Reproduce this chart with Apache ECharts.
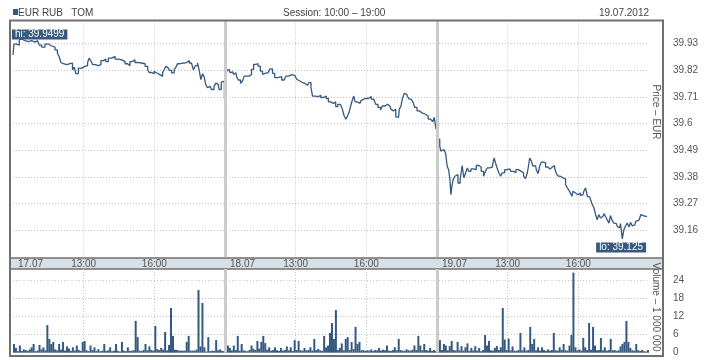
<!DOCTYPE html>
<html><head><meta charset="utf-8">
<script src="https://cdn.jsdelivr.net/npm/echarts@6/dist/echarts.min.js"></script>
<style>html,body{margin:0;padding:0;background:#fff}#c{width:718px;height:360px}</style>
</head><body><div id="c"></div>
<script>
// ---- texts ----
const instrument = 'EUR RUB   TOM';
const sessionText = 'Session: 10:00 \u2013 19:00';
const reportDate = '19.07.2012';
const dayLabels = ['17.07', '18.07', '19.07'];
const timeLabels = ['13:00', '16:00'];
const priceAxisName = 'Price \u2013 EUR';
const volumeAxisName = 'Volume \u2013 1 000 000';
const hiValue = 39.9499;
const loValue = 39.125;

// ---- price, [minutes since 10:00, price] per trading day ----
const day1 = [[0,39.882],[5,39.927],[14,39.923],[18,39.944],[22,39.948],[26,39.941],[35,39.937],[43,39.941],[52,39.935],[60,39.941],[65,39.933],[69,39.923],[77,39.914],[86,39.927],[94,39.919],[103,39.914],[111,39.903],[115,39.889],[120,39.876],[124,39.851],[128,39.846],[137,39.842],[145,39.846],[149,39.849],[154,39.821],[158,39.832],[162,39.805],[171,39.828],[179,39.835],[188,39.838],[192,39.851],[196,39.869],[200,39.859],[206,39.842],[213,39.838],[222,39.842],[226,39.859],[234,39.865],[239,39.855],[247,39.869],[256,39.876],[264,39.865],[273,39.862],[281,39.855],[290,39.846],[294,39.838],[302,39.855],[306,39.862],[315,39.851],[323,39.849],[332,39.846],[341,39.835],[345,39.821],[349,39.810],[357,39.805],[362,39.815],[366,39.808],[374,39.801],[379,39.794],[383,39.810],[387,39.821],[392,39.835],[396,39.828],[400,39.819],[408,39.808],[413,39.821],[417,39.832],[421,39.846],[430,39.849],[438,39.851],[447,39.859],[451,39.849],[458,39.842],[461,39.821],[468,39.838],[472,39.849],[476,39.821],[481,39.781],[485,39.805],[489,39.791],[493,39.760],[498,39.747],[502,39.753],[509,39.740],[515,39.753],[519,39.767],[523,39.760],[527,39.740],[534,39.770],[537,39.774],[540,39.706]];
const day2 = [[0,39.850],[4,39.853],[6,39.816],[11,39.823],[14,39.809],[20,39.812],[23,39.802],[28,39.809],[31,39.793],[37,39.779],[42,39.765],[47,39.775],[51,39.795],[59,39.795],[65,39.802],[70,39.823],[76,39.843],[81,39.847],[87,39.836],[93,39.816],[98,39.802],[102,39.806],[110,39.809],[119,39.825],[123,39.806],[130,39.789],[140,39.793],[149,39.779],[153,39.784],[157,39.795],[166,39.801],[174,39.798],[181,39.795],[184,39.782],[191,39.775],[198,39.768],[204,39.765],[210,39.757],[217,39.768],[221,39.748],[225,39.713],[234,39.711],[242,39.716],[246,39.707],[255,39.713],[261,39.703],[266,39.689],[272,39.683],[280,39.689],[284,39.670],[291,39.679],[297,39.683],[301,39.659],[306,39.631],[310,39.618],[314,39.631],[318,39.645],[323,39.675],[327,39.700],[329,39.713],[334,39.689],[340,39.686],[344,39.683],[348,39.693],[353,39.700],[357,39.703],[361,39.707],[365,39.703],[369,39.711],[376,39.700],[382,39.693],[386,39.679],[393,39.666],[399,39.656],[403,39.672],[412,39.679],[416,39.683],[420,39.672],[425,39.659],[429,39.652],[433,39.659],[437,39.627],[442,39.625],[446,39.659],[450,39.670],[454,39.703],[459,39.724],[463,39.720],[467,39.711],[471,39.700],[478,39.697],[481,39.686],[486,39.666],[492,39.652],[497,39.645],[504,39.652],[507,39.638],[514,39.631],[521,39.618],[527,39.615],[531,39.607],[535,39.625],[540,39.577]];
const day3 = [[0,39.589],[3,39.541],[5,39.534],[9,39.507],[11,39.486],[15,39.493],[20,39.486],[24,39.476],[28,39.424],[31,39.410],[34,39.376],[37,39.307],[39,39.342],[43,39.369],[48,39.383],[51,39.390],[56,39.355],[62,39.369],[66,39.427],[71,39.376],[75,39.397],[79,39.417],[83,39.403],[90,39.413],[96,39.410],[104,39.427],[109,39.421],[116,39.403],[121,39.383],[126,39.403],[130,39.417],[139,39.421],[144,39.431],[147,39.458],[151,39.438],[155,39.417],[160,39.397],[164,39.383],[168,39.397],[177,39.410],[181,39.403],[185,39.413],[192,39.403],[198,39.397],[204,39.410],[211,39.403],[218,39.397],[223,39.383],[228,39.373],[232,39.397],[234,39.424],[238,39.458],[243,39.445],[246,39.424],[251,39.427],[255,39.410],[260,39.394],[263,39.424],[268,39.441],[274,39.438],[279,39.421],[285,39.413],[291,39.421],[297,39.427],[302,39.417],[306,39.394],[311,39.383],[317,39.383],[321,39.376],[325,39.372],[330,39.348],[334,39.335],[338,39.325],[342,39.314],[345,39.300],[348,39.321],[353,39.314],[359,39.307],[363,39.314],[368,39.303],[372,39.307],[376,39.321],[381,39.335],[385,39.300],[389,39.298],[393,39.287],[398,39.266],[402,39.252],[406,39.225],[410,39.204],[414,39.225],[419,39.211],[423,39.218],[427,39.229],[431,39.218],[436,39.204],[440,39.190],[444,39.221],[448,39.201],[453,39.190],[457,39.188],[461,39.177],[465,39.170],[470,39.188],[474,39.125],[478,39.163],[482,39.177],[487,39.190],[491,39.174],[495,39.193],[499,39.179],[504,39.183],[508,39.197],[514,39.201],[518,39.204],[521,39.225],[525,39.221],[529,39.218],[535,39.218]];

// ---- volume, millions, one value per 5-minute bucket ----
const vol1 = [2.9,1.6,0.5,2.4,0.6,1.1,0.9,0.6,1.1,1.8,2.9,0.5,0.7,2.6,1.1,1.8,0.8,9.2,4.6,2.9,3.6,1.1,0.8,2.9,1.0,3.6,0.7,2.1,1.4,0.6,1.8,0.7,2.4,0.9,0.6,3.6,3.9,0.8,0.5,2.4,0.9,1.8,0.6,1.2,0.5,0.7,2.9,0.6,0.8,1.8,0.5,0.7,2.9,0.6,0.4,3.6,0.7,0.5,1.8,0.6,0.7,0.8,10.6,5.2,0.7,0.6,0.9,2.9,0.8,2.1,0.9,0.7,8.9,1.2,0.9,1.6,1.0,6.9,0.8,2.6,14.9,5.6,1.0,0.9,0.7,0.7,0.7,0.7,3.6,5.6,0.7,0.7,0.7,1.0,20.9,2.1,16.6,1.8,0.4,5.2,0.5,0.7,0.6,4.2,0.8,1.1,0.6,0.5];
const vol2 = [0.9,2.4,1.6,0.8,2.4,0.9,5.6,0.7,2.9,0.8,0.6,0.5,0.9,2.4,1.3,0.9,3.9,1.4,3.6,5.6,3.2,1.0,1.8,0.7,0.9,1.8,0.8,0.6,1.6,0.7,0.9,2.1,0.8,1.8,0.6,4.2,0.9,3.9,0.8,0.7,1.6,0.8,0.9,1.8,0.7,4.6,0.9,1.3,0.8,0.6,5.6,1.8,2.4,6.6,9.9,4.6,14.2,0.9,1.6,3.1,0.8,4.6,5.2,0.9,3.6,1.2,8.6,2.9,3.6,0.8,0.9,0.6,0.8,0.7,1.1,0.6,0.9,0.8,1.6,0.7,1.0,0.8,2.4,0.7,0.6,0.9,1.8,0.8,4.6,0.9,0.7,0.6,1.1,0.8,0.7,1.0,2.4,0.9,5.6,2.4,0.8,2.9,0.9,0.7,1.6,0.6,0.9,0.5];
const vol3 = [10.6,4.2,0.9,2.9,2.4,0.8,2.2,3.9,0.9,0.7,3.6,0.8,2.2,0.7,1.8,3.1,0.6,1.6,0.8,2.2,0.7,1.6,0.5,0.9,5.9,2.4,3.9,0.8,0.7,1.6,2.2,0.9,1.8,14.9,4.4,0.9,4.7,0.8,2.1,0.7,0.6,0.9,6.6,0.8,1.8,0.7,0.9,8.6,2.9,4.6,0.8,1.8,0.7,1.8,0.9,0.6,1.1,0.7,0.9,6.6,0.8,0.7,1.8,0.9,2.9,0.8,0.7,2.4,5.9,26.7,1.8,0.8,1.1,0.7,4.9,1.8,0.9,9.9,1.0,8.6,2.4,0.8,0.9,4.9,0.8,1.8,0.7,0.9,4.6,0.8,0.9,0.6,0.8,2.1,2.9,3.6,10.6,3.6,1.6,0.8,0.7,2.9,0.8,0.6,0.9,0.5,0.4,0.9];

// ---- build series data ----
const HOURS_PER_DAY = 9;
const priceData = [];
[day1, day2, day3].forEach((d, k) => d.forEach(([m, p]) => priceData.push([k * HOURS_PER_DAY + m / 60, p])));
const volData = [];
[vol1, vol2, vol3].forEach((arr, k) => arr.forEach((v, i) => volData.push([k * HOURS_PER_DAY + (i + 0.5) / 12, v])));
let hiPt = priceData[0], loPt = priceData[0];
priceData.forEach(p => { if (p[1] > hiPt[1]) hiPt = p; if (p[1] < loPt[1]) loPt = p; });

const FONT = "'Liberation Sans',Arial,sans-serif";
const FS = 10;
const TXT = '#555';
const BLUE = '#36597f';
const GRIDC = '#c4c4c4';
const SEP = '#cbcbcb';

const chart = echarts.init(document.getElementById('c'), null, {renderer: 'canvas'});
const sepLines = {
  silent: true, symbol: ['none', 'none'], label: {show: false},
  lineStyle: {color: SEP, width: 3, type: 'solid'},
  data: [{xAxis: 9}, {xAxis: 18}]
};
chart.setOption({
  animation: false,
  backgroundColor: '#fff',
  textStyle: {fontFamily: FONT},
  grid: [
    {left: 13, right: 69, top: 20.5, height: 236.6},
    {left: 13, right: 69, top: 269, height: 83.7}
  ],
  xAxis: [
    {type: 'value', gridIndex: 0, min: 0, max: 27, interval: 3,
      axisLine: {show: false}, axisTick: {show: false},
      splitLine: {show: true, showMinLine: false, showMaxLine: false, lineStyle: {color: GRIDC, type: [1, 2], width: 1}},
      axisLabel: {show: true, margin: 7, verticalAlign: 'middle', color: TXT, fontSize: FS, fontFamily: FONT,
        showMinLabel: true, showMaxLabel: true,
        formatter: v => { const r = Math.round(v) % 9; return r === 3 ? timeLabels[0] : (r === 6 ? timeLabels[1] : ''); }}},
    {type: 'value', gridIndex: 1, min: 0, max: 27, interval: 3, position: 'bottom',
      axisLine: {show: false}, axisTick: {show: false}, axisLabel: {show: false},
      splitLine: {show: true, showMinLine: false, showMaxLine: false, lineStyle: {color: GRIDC, type: [1, 2], width: 1}}},
    {type: 'value', gridIndex: 1, min: 0, max: 27, interval: 9, position: 'top',
      axisLine: {show: false}, axisTick: {show: false}, splitLine: {show: false},
      axisLabel: {show: true, margin: 5, align: 'left', verticalAlign: 'middle', padding: [0, 0, 0, 5], color: TXT, fontSize: FS, fontFamily: FONT,
        showMinLabel: true, showMaxLabel: true,
        formatter: v => { const k = Math.round(v / 9); return k < dayLabels.length ? dayLabels[k] : ''; }}}
  ],
  yAxis: [
    {type: 'value', gridIndex: 0, position: 'right', min: 39.05, max: 40.024, interval: 0.11,
      axisLine: {show: false}, axisTick: {show: false},
      splitLine: {show: true, showMinLine: false, showMaxLine: false, lineStyle: {color: GRIDC, type: [1, 2], width: 1}},
      axisLabel: {margin: 24, color: TXT, fontSize: FS, fontFamily: FONT, showMinLabel: false, showMaxLabel: false}},
    {type: 'value', gridIndex: 1, position: 'right', min: 0, max: 27.9, interval: 6,
      axisLine: {show: false}, axisTick: {show: false},
      splitLine: {show: true, showMinLine: false, showMaxLine: false, lineStyle: {color: GRIDC, type: [1, 2], width: 1}},
      axisLabel: {margin: 24, color: TXT, fontSize: FS, fontFamily: FONT, showMinLabel: true, showMaxLabel: false}}
  ],
  series: [
    {type: 'line', xAxisIndex: 0, yAxisIndex: 0, data: [], z: 1, markLine: sepLines},
    {type: 'line', xAxisIndex: 1, yAxisIndex: 1, data: [], z: 1, markLine: sepLines},
    {type: 'line', name: 'EUR RUB TOM', xAxisIndex: 0, yAxisIndex: 0, data: priceData, z: 3,
      step: 'middle', showSymbol: false, symbol: 'none', lineStyle: {color: BLUE, width: 1.3}, itemStyle: {color: BLUE},
      markPoint: {
        silent: true, symbol: 'circle', symbolSize: 1, itemStyle: {color: 'rgba(0,0,0,0)'},
        data: [
          {coord: hiPt, label: {show: true, position: 'top', distance: 0, offset: [18, 1], formatter: 'hi: ' + hiValue,
            backgroundColor: BLUE, color: '#fff', fontSize: FS, fontFamily: FONT, lineHeight: 10, padding: [0, 3]}},
          {coord: loPt, label: {show: true, position: 'bottom', distance: 3, offset: [-2, 0], formatter: 'lo: ' + loValue,
            backgroundColor: BLUE, color: '#fff', fontSize: FS, fontFamily: FONT, lineHeight: 10, padding: [0, 3]}}
        ]
      }},
    {type: 'bar', name: 'Volume', xAxisIndex: 1, yAxisIndex: 1, data: volData, z: 3,
      barWidth: 2, itemStyle: {color: BLUE}}
  ],
  graphic: [
    {type: 'rect', z: -10, shape: {x: 10, y: 258, width: 653, height: 11}, style: {fill: '#d7e0e7', stroke: '#707070', lineWidth: 1.5}},
    {type: 'rect', z: 10, shape: {x: 10, y: 20.5, width: 653, height: 335.5}, style: {fill: null, stroke: '#707070', lineWidth: 2}},
    {type: 'rect', shape: {x: 13, y: 9, width: 5, height: 6}, style: {fill: BLUE}},
    {type: 'text', x: 18, y: 13, style: {text: instrument, fill: '#444', font: FS + 'px ' + FONT, verticalAlign: 'middle'}},
    {type: 'text', x: 283, y: 13, style: {text: sessionText, fill: '#444', font: FS + 'px ' + FONT, verticalAlign: 'middle'}},
    {type: 'text', x: 649, y: 13, style: {text: reportDate, fill: '#444', font: FS + 'px ' + FONT, align: 'right', verticalAlign: 'middle'}},
    {type: 'text', x: 656, y: 112, rotation: -Math.PI / 2, style: {text: priceAxisName, fill: TXT, font: FS + 'px ' + FONT, align: 'center', verticalAlign: 'middle'}},
    {type: 'text', x: 656, y: 307, rotation: -Math.PI / 2, style: {text: volumeAxisName, fill: TXT, font: FS + 'px ' + FONT, align: 'center', verticalAlign: 'middle'}}
  ]
});
</script></body></html>
